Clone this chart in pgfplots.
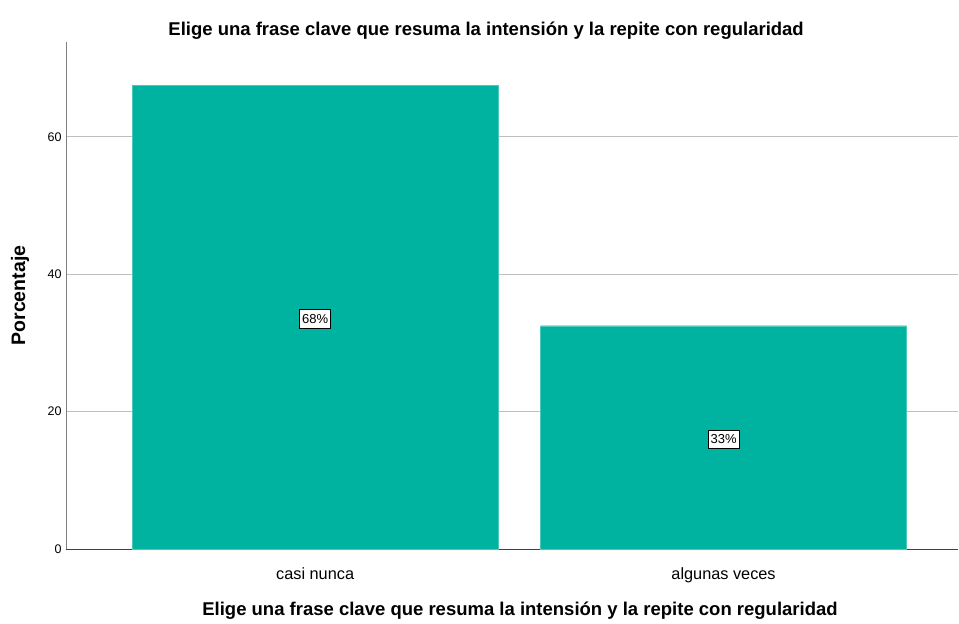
\documentclass[border=0pt]{standalone}
\usepackage{pgfplots}
\pgfplotsset{compat=1.18}
\usepackage{fontspec}
\setmainfont{Liberation Sans}
\definecolor{barteal}{RGB}{0,178,160}
\begin{document}
\begin{tikzpicture}
\begin{axis}[
  name=ax,
  scale only axis,
  width=892pt, height=507pt,
  xmin=-0.61, xmax=1.574,
  ymin=0, ymax=73.8,
  ytick={0,20,40,60},
  xtick={0,1},
  xticklabels={casi nunca, algunas veces},
  /pgf/number format/assume math mode=true,
  axis x line*=bottom,
  axis y line*=left,
  x axis line style={draw=black!75, -},
  y axis line style={draw=black!50, -},
  tick style={draw=none},
  ymajorgrids,
  grid style={draw=black!25, line width=0.8pt},
  yticklabel style={font=\fontsize{12.5}{14}\selectfont, xshift=-1pt},
  xticklabel style={font=\fontsize{16.3}{19}\selectfont, yshift=-15pt},
  title={\textbf{Elige una frase clave que resuma la intensión y la repite con regularidad}},
  title style={font=\fontsize{18.5}{22}\selectfont, at={(axis description cs:0.471,1)}, anchor=center, yshift=5pt},
  xlabel={\textbf{Elige una frase clave que resuma la intensión y la repite con regularidad}},
  xlabel style={font=\fontsize{18.5}{22}\selectfont, at={(axis description cs:0.509,0)}, anchor=center, yshift=-62pt},
  ylabel={\textbf{Porcentaje}},
  ylabel style={font=\fontsize{19.5}{22}\selectfont, at={(axis description cs:-0.0516,0.5)}, anchor=center, rotate=0},
  axis on top=false,
]
\addplot[ybar, bar width=366pt, fill=barteal, draw=barteal!70!white] coordinates {(0,67.5) (1,32.5)};
\addplot[only marks, mark=none, point meta=explicit symbolic,
  nodes near coords,
  every node near coord/.style={anchor=center, draw=black, line width=0.8pt, fill=white, inner xsep=2.5pt, inner ysep=4.5pt, font=\fontsize{13}{14}\selectfont}]
  coordinates {(0,33.5)[68\%] (1,16)[33\%]};
\end{axis}
\path (ax.south west) ++(-66pt,-72pt) rectangle ++(959pt,621pt);
\end{tikzpicture}
\end{document}
